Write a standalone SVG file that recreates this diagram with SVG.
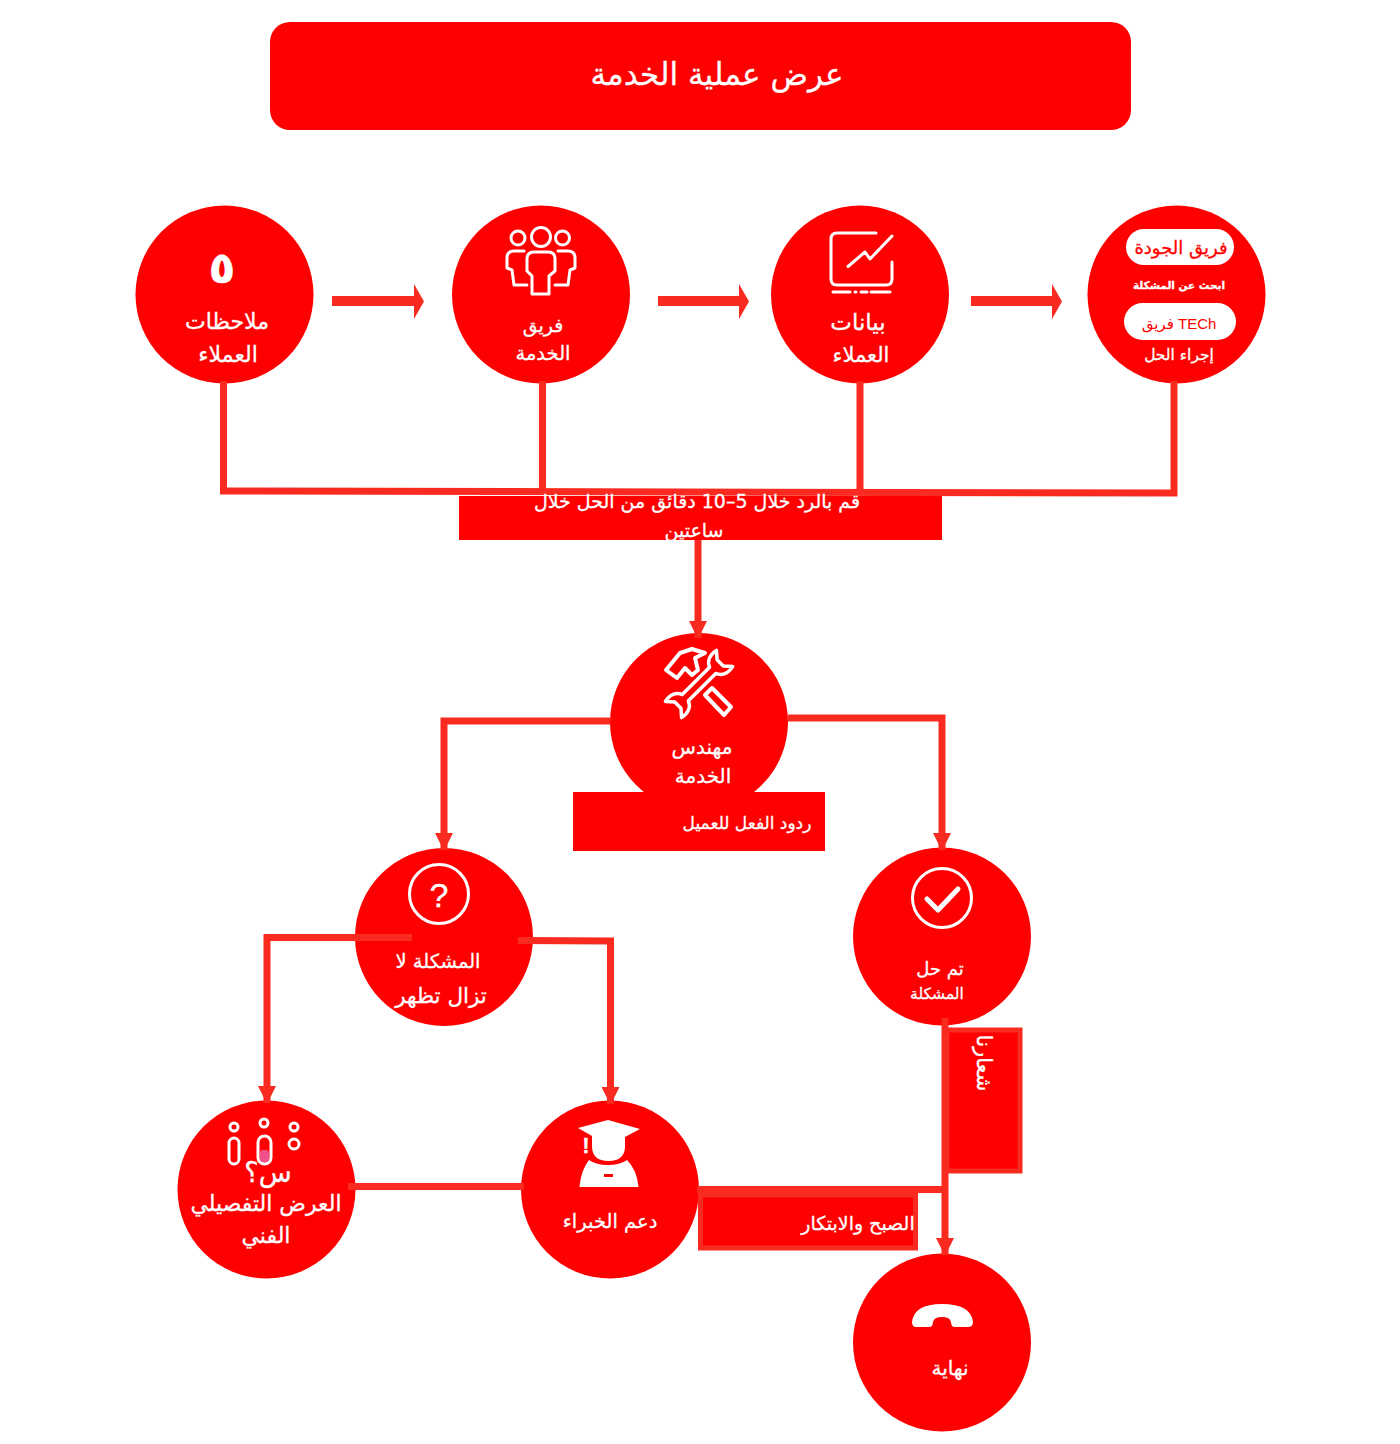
<svg xmlns="http://www.w3.org/2000/svg" width="1400" height="1444" viewBox="0 0 1400 1444">
<style>
.n{fill:#fe0000}
.t{font-family:"DejaVu Sans","Noto Sans",sans-serif;fill:#fff;stroke:#fff;stroke-width:.3;text-anchor:middle;direction:rtl}
.r{fill:#fe0000}
.c{fill:none;stroke:#f92a20;stroke-width:7}
.i{fill:none;stroke:#fff;stroke-width:3;stroke-linecap:round;stroke-linejoin:round}
.f{fill:#fff}
.h{fill:#f92a20}
.k{fill:#fe0000;stroke:#fe0000}
</style>
<defs>
<marker id="a" markerUnits="userSpaceOnUse" markerWidth="18" markerHeight="18" refX="17" refY="9" orient="auto"><path d="M0 0L18 9L0 18Z" fill="#f92a20"/></marker>
</defs>
<rect width="1400" height="1444" fill="#fff"/>
<g id="title"><rect x="270" y="22" width="861" height="108" rx="20" class="r"/><text x="717" y="85" class="t" font-size="31">عرض عملية الخدمة</text></g>
<g id="n1"><circle cx="224.500" cy="294.500" r="89" class="n"/><text x="222" y="283" class="t" font-size="44" font-weight="700">٥</text><text x="227" y="329" class="t" font-size="22">ملاحظات</text><text x="228" y="362" class="t" font-size="22">العملاء</text></g>
<g id="n2"><circle cx="541" cy="294.500" r="89" class="n"/>
<g class="i"><circle cx="518" cy="238" r="7"/><circle cx="541" cy="237" r="9.500"/><circle cx="562.500" cy="238" r="7"/><path d="M532 294H549V276L555 271V259Q555 252 548 252H534Q527 252 527 259V271L532 276ZM524 251H514Q507 251 507 258V268L512 270L514 285H527M558 251H568Q575 251 575 258V268L570 270L568 285H555"/></g>
<text x="543" y="332" class="t" font-size="19">فريق</text><text x="543" y="360" class="t" font-size="19.500">الخدمة</text></g>
<g id="n3"><circle cx="860" cy="294.500" r="89" class="n"/>
<g class="i"><path d="M876 233H837Q831 233 831 239V279Q831 285 837 285H886Q892 285 892 279V262M848 266.500L865 252L870 259L892 236M833 292H850M855 292H856M861 292H867M871 292H890"/></g>
<text x="858" y="330" class="t" font-size="23">بيانات</text><text x="861" y="362" class="t" font-size="21">العملاء</text></g>
<g id="n4"><circle cx="1176.500" cy="294.500" r="89" class="n"/>
<rect x="1126" y="229" width="108" height="36" rx="18" class="f"/>
<text x="1181" y="254" class="t k" font-size="18">فريق الجودة</text>
<text x="1179" y="289" class="t" font-size="10.500" font-weight="700">ابحث عن المشكلة</text>
<rect x="1124" y="303" width="112" height="37" rx="18.500" class="f"/>
<text x="1179" y="329" class="t" font-size="15" style="fill:#fe0000;stroke:none;font-family:'Liberation Sans','DejaVu Sans',sans-serif">TECh فريق</text>
<text x="1179" y="360" class="t" font-size="15.500">إجراء الحل</text></g>
<g id="n5"><circle cx="699" cy="722" r="89" class="n"/>
<g class="i" style="stroke-width:4"><path d="M666 670L680 653L692 649L705 653L695 658L698 670L692 675L685 668L677 678ZM705 695L712 688L731 707L724 715Z"/>
<path transform="translate(699 684) rotate(-45) scale(.88)" d="M-22 -5H22C25 -12 32 -15 41 -13L34 -5V5L41 13C32 15 25 12 22 5H-22C-25 12 -32 15 -41 13L-34 5V-5L-41 -13C-32 -15 -25 -12 -22 -5Z"/></g>
<text x="702" y="754" class="t" font-size="20">مهندس</text><text x="703" y="783" class="t" font-size="20">الخدمة</text></g>
<g id="feedback"><rect x="573" y="792" width="252" height="59" class="r"/><text x="747" y="829" class="t" font-size="17">ردود الفعل للعميل</text></g>
<g id="n6"><circle cx="444" cy="937" r="89" class="n"/>
<circle cx="439" cy="894" r="29.500" class="i"/>
<text x="439" y="907" class="t" font-size="34" style="font-family:'Liberation Sans',sans-serif">?</text>
<text x="438" y="968" class="t" font-size="19.500">المشكلة لا</text><text x="441" y="1003" class="t" font-size="21.500">تزال تظهر</text></g>
<g id="n7"><circle cx="942" cy="936.500" r="89" class="n"/>
<circle cx="942" cy="898" r="29.500" class="i"/><path class="i" style="stroke-width:5" d="M927 899L938 910L958 889"/>
<text x="940" y="975" class="t" font-size="18">تم حل</text><text x="937" y="999" class="t" font-size="15.500">المشكلة</text></g>
<g id="n8"><circle cx="266.500" cy="1189.500" r="89" class="n"/>
<g class="i"><circle cx="234" cy="1127" r="4"/><circle cx="264" cy="1123" r="4"/><circle cx="294" cy="1127" r="4"/><rect x="229" y="1138" width="10" height="26" rx="5"/><rect x="258" y="1136" width="13" height="28" rx="6.500"/><circle cx="294" cy="1144" r="5"/></g>
<rect x="260" y="1150" width="9" height="12" rx="3" fill="#f0508c"/>
<text x="268" y="1182" class="t" font-size="27">س؟</text>
<text x="266" y="1211" class="t" font-size="22">العرض التفصيلي</text><text x="266" y="1243" class="t" font-size="22">الفني</text></g>
<g id="n9"><circle cx="610" cy="1189.500" r="89" class="n"/>
<path class="f" d="M578 1128L608 1120L640 1129L625 1137V1146Q625 1161 608.500 1161Q592 1161 592 1146V1136ZM589 1160Q596 1165 608 1165Q620 1165 627 1160Q637 1170 638.500 1187H579.500Q581 1170 589 1160Z"/>
<rect x="604" y="1174" width="9" height="3" fill="#fe0000"/>
<text x="586" y="1153" class="t" font-size="22" font-weight="700" style="font-family:'Liberation Sans',sans-serif">!</text>
<text x="610" y="1228" class="t" font-size="19.500">دعم الخبراء</text></g>
<g id="n10"><circle cx="942" cy="1342.500" r="89" class="n"/>
<path class="f" d="M912 1322Q914 1304 942 1304Q971 1304 973 1322Q973 1327 968 1327H955Q951 1327 951 1322Q950 1317 942 1317Q934 1317 933 1322Q933 1327 929 1327H916Q912 1327 912 1322Z"/>
<text x="950" y="1375" class="t" font-size="20">نهاية</text></g>
<g id="logo"><rect x="947" y="1030" width="73" height="141" fill="#fe0000" stroke="#f92a20" stroke-width="5"/><text transform="translate(977 1063) rotate(90)" class="t" font-size="21">شعارنا</text></g>
<g id="tagline"><rect x="700.500" y="1195" width="215" height="53" fill="#fe0000" stroke="#f92a20" stroke-width="5"/><text x="858" y="1230" class="t" font-size="19">الصبح والابتكار</text></g>
<g id="connectors">
<path class="c" d="M223.500 381V491L1174 493V381M542.500 381V492M860 381V492"/>
<path class="c" style="stroke-width:10" d="M332 301H415M658 301H740M971 301H1053"/>
<path class="h" d="M414 284L424 301.500L414 319ZM739 284L749 301.500L739 319ZM1052 284L1062 301.500L1052 319Z"/>
<path class="c" d="M698 540V638" marker-end="url(#a)"/>
<path class="c" d="M610 721H444V850" marker-end="url(#a)"/>
<path class="c" d="M788 718H942V850" marker-end="url(#a)"/>
<path class="c" d="M412 937.500H267V1103" marker-end="url(#a)"/>
<path class="c" d="M518 940.500L610.500 941V1104" marker-end="url(#a)"/>
<path class="c" d="M348 1186.500H524"/>
<path class="c" d="M945 1018V1255" marker-end="url(#a)"/>
<path class="c" d="M697 1189.500H945"/>
</g>
<g id="response"><rect x="459" y="496" width="483" height="44" class="r"/><text x="697" y="508" class="t" font-size="19">قم بالرد خلال 5–10 دقائق من الحل خلال</text><text x="694" y="537" class="t" font-size="19">ساعتين</text></g>
</svg>
